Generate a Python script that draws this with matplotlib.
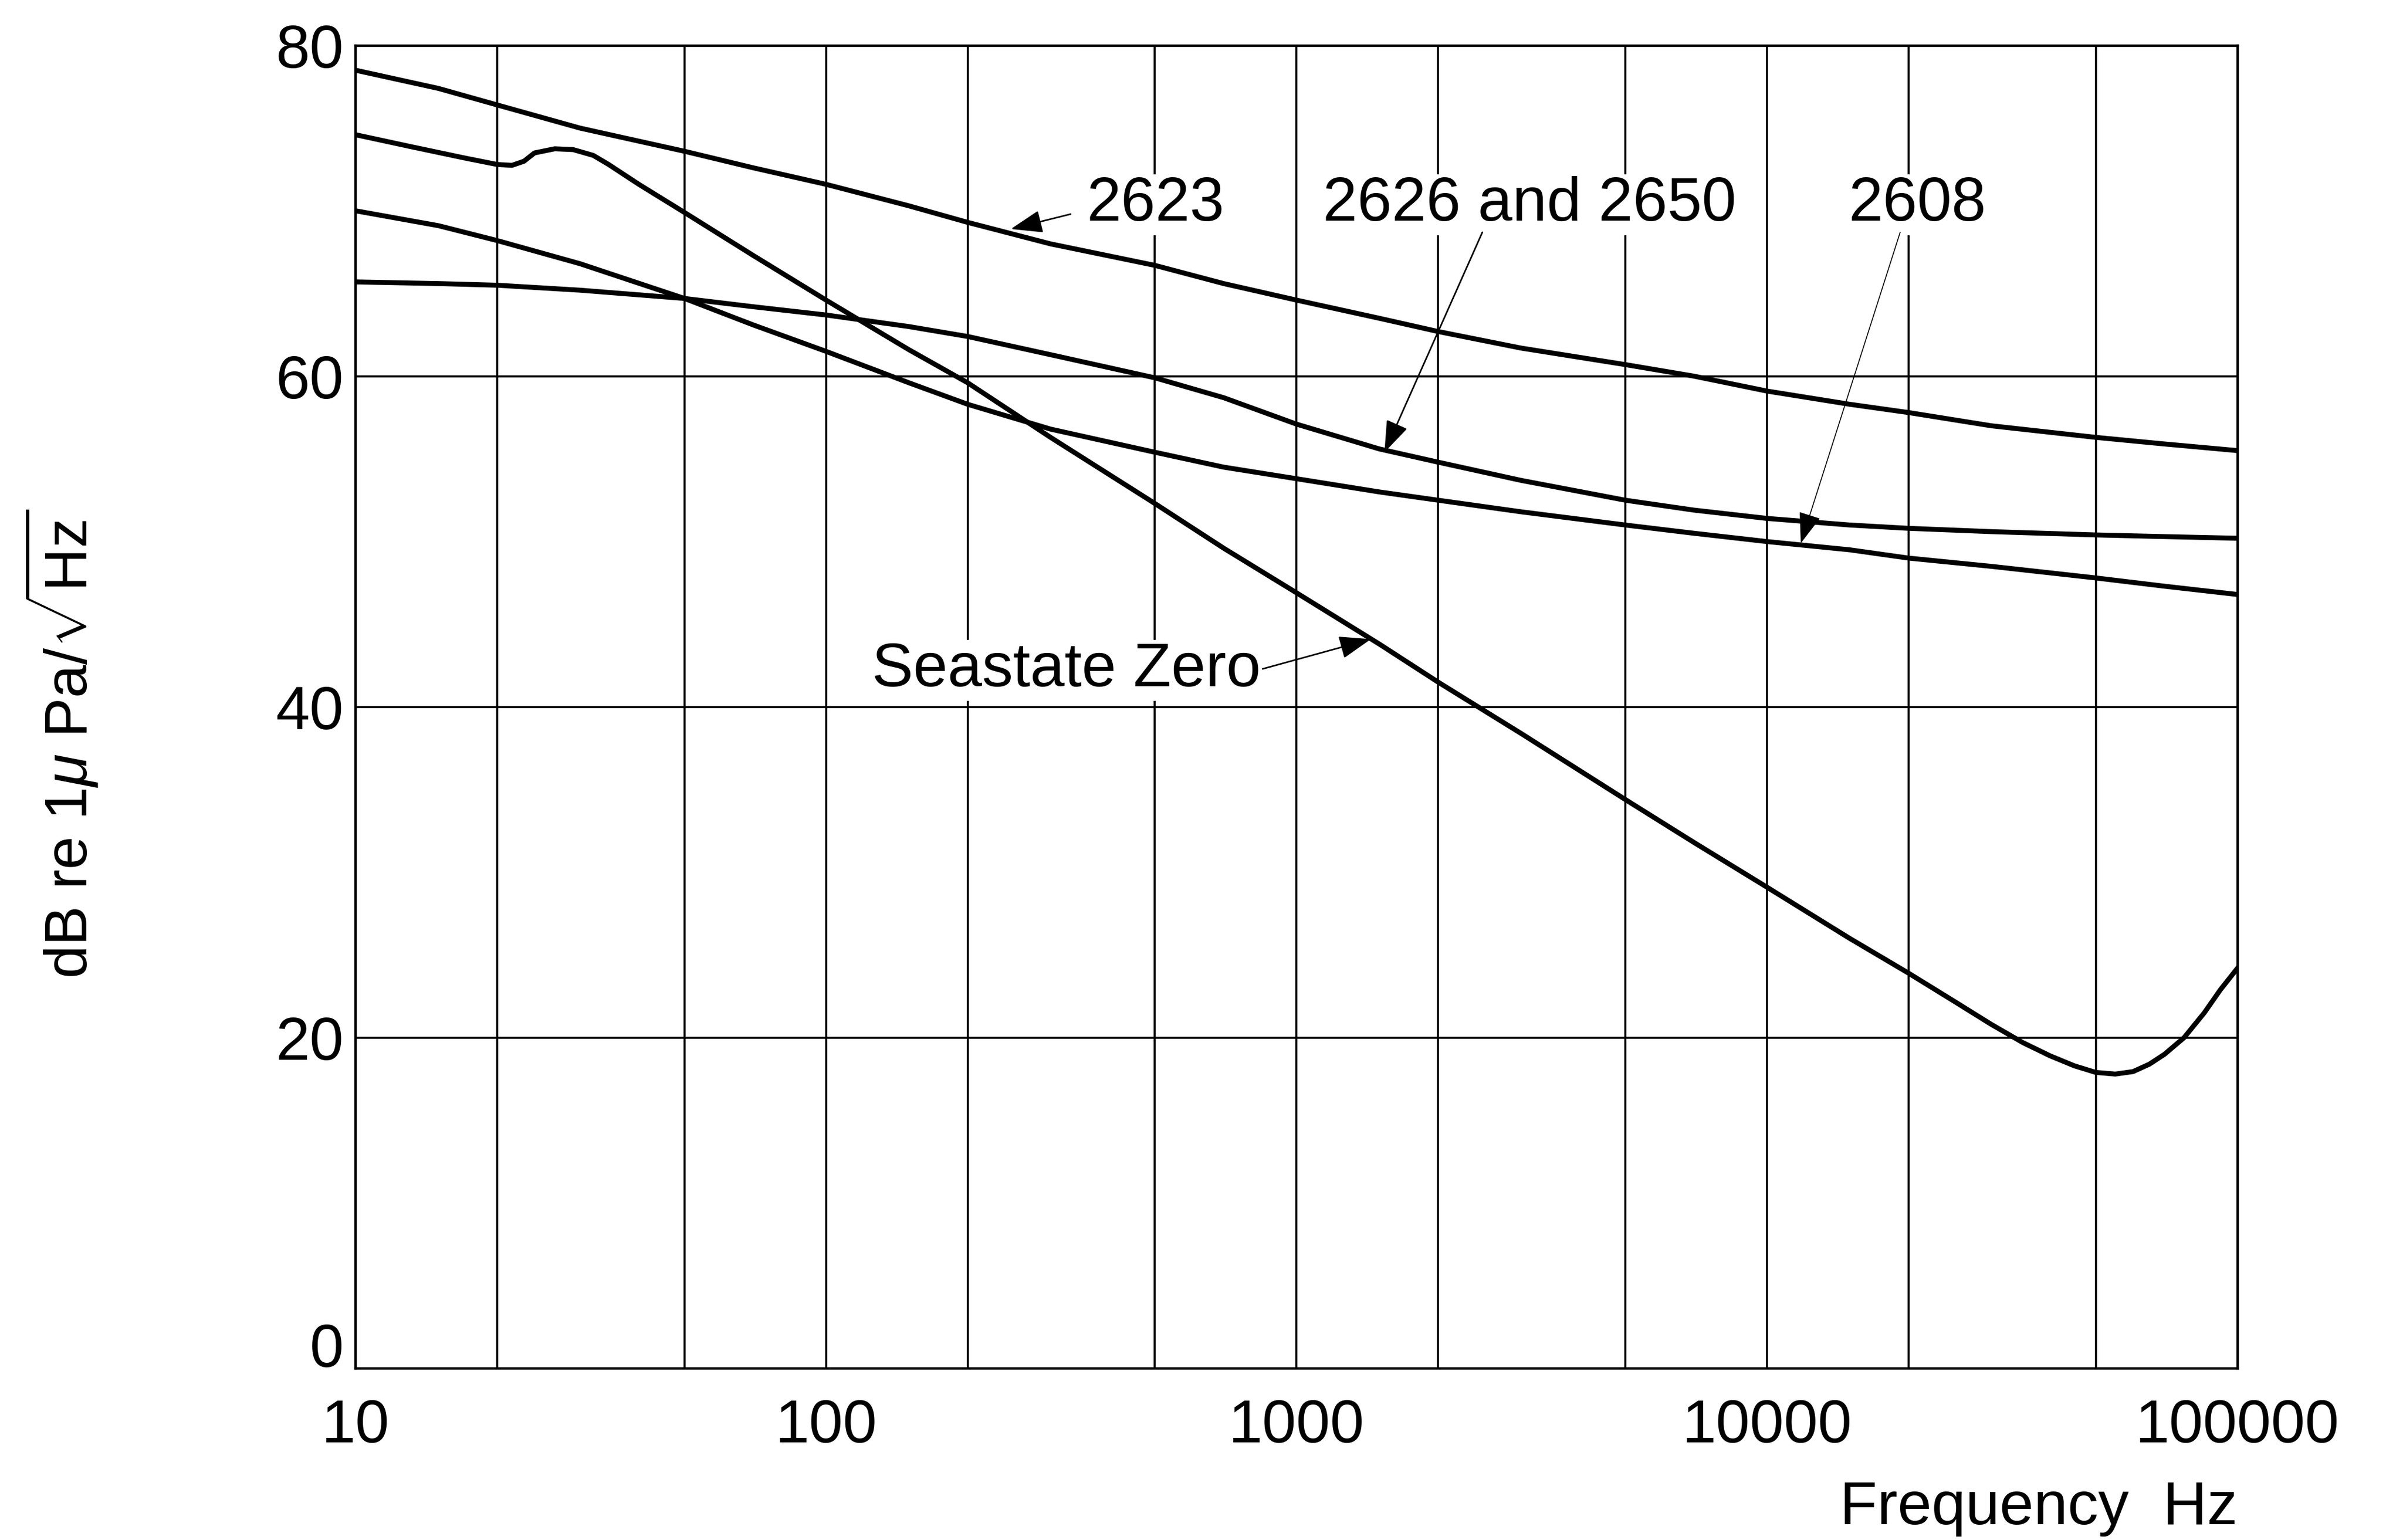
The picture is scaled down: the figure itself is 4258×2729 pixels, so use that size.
import numpy as np
import matplotlib
matplotlib.use("Agg")
import matplotlib.pyplot as plt
from matplotlib.ticker import FixedLocator, NullFormatter

plt.rcParams['font.family'] = ['Liberation Sans', 'DejaVu Sans']
plt.rcParams['mathtext.fontset'] = 'custom'
plt.rcParams['mathtext.rm'] = 'Liberation Sans'
plt.rcParams['mathtext.it'] = 'Liberation Sans:italic'

# curves (frequency Hz, dB)
freq = [10, 15, 20, 30, 50, 70, 100, 150, 200, 300, 500, 700, 1000, 1500,
        2000, 3000, 5000, 7000, 10000, 15000, 20000, 30000, 50000, 70000, 100000]
db_2623 = [78.5, 77.4, 76.4, 75.0, 73.6, 72.6, 71.6, 70.3, 69.3, 68.0, 66.7, 65.6, 64.6,
           63.5, 62.7, 61.7, 60.7, 60.0, 59.1, 58.3, 57.8, 57.0, 56.3, 55.9, 55.5]
db_2626 = [65.7, 65.6, 65.5, 65.2, 64.7, 64.2, 63.7, 63.0, 62.4, 61.3, 59.9, 58.7, 57.1,
           55.6, 54.8, 53.7, 52.5, 51.9, 51.4, 51.0, 50.8, 50.6, 50.4, 50.3, 50.2]
db_2608 = [70.0, 69.1, 68.2, 66.8, 64.7, 63.1, 61.5, 59.6, 58.3, 56.8, 55.4, 54.5, 53.8,
           53.0, 52.5, 51.8, 51.0, 50.5, 50.0, 49.5, 49.0, 48.5, 47.8, 47.3, 46.8]

freq_sea = [10, 13, 17, 20, 21.5, 22.8, 24, 26.5, 29, 32, 34.5, 40, 50, 70, 100, 150, 200,
            300, 500, 700, 1000, 1500, 2000, 3000, 5000, 7000, 10000, 15000, 20000,
            25000, 30000, 35000, 40000, 45000, 50000, 55000, 60000, 65000, 70000,
            77000, 85000, 92000, 100000]
db_sea = [74.6, 73.9, 73.2, 72.8, 72.75, 73.0, 73.5, 73.75, 73.7, 73.35, 72.8, 71.6, 69.9,
          67.3, 64.6, 61.6, 59.6, 56.3, 52.3, 49.6, 46.9, 43.8, 41.5, 38.4, 34.4, 31.8,
          29.1, 26.0, 23.9, 22.2, 20.8, 19.7, 18.9, 18.3, 17.9, 17.8, 17.95, 18.4, 19.0,
          20.0, 21.5, 22.9, 24.2]

# labels and their arrows (text x, text baseline y, arrow tail, arrow head)
label_text = ['2623', '2626 and 2650', '2608', 'Seastate Zero']
label_x = [501, 3126, 20900, 324]
label_y = [69.4, 69.4, 69.4, 41.25]
arrow_tail = [(331, 69.8), (2483, 68.7), (19190, 68.7), (847, 42.3)]
arrow_head = [(247, 68.9), (1538, 55.4), (11800, 49.9), (1439, 44.1)]

major_x = [10, 100, 1000, 10000, 100000]
minor_x = [20, 50, 200, 500, 2000, 5000, 20000, 50000]
y_ticks = [0, 20, 40, 60, 80]

fig = plt.figure(figsize=(42.58, 27.29), dpi=100)
ax = fig.add_axes([0.148, 0.1114, 0.7831, 0.8591])
ax.set_xscale('log')
ax.set_xlim(10, 100000)
ax.set_ylim(0, 80)

ax.xaxis.set_major_locator(FixedLocator(major_x))
ax.xaxis.set_minor_locator(FixedLocator(minor_x))
ax.xaxis.set_minor_formatter(NullFormatter())
ax.set_xticks(major_x)
ax.set_xticklabels([str(v) for v in major_x])
ax.set_yticks(y_ticks)
# the "0" sits a little above the axis in the original, drawn separately below
ax.set_yticklabels(['' if v == 0 else str(v) for v in y_ticks])
ax.tick_params(axis='x', which='both', length=0, labelsize=78, pad=38)
ax.tick_params(axis='y', which='both', length=0, labelsize=78, pad=15)
ax.grid(True, which='both', color='black', lw=2.6)
for s in ax.spines.values():
    s.set_linewidth(3.2)
ax.set_axisbelow(True)
ax.annotate('0', xy=(10, 0), xytext=(-15, 22), textcoords='offset points',
            ha='right', va='center', fontsize=78, annotation_clip=False)

lw = 6.3
ax.plot(freq, db_2623, color='black', lw=lw)
ax.plot(freq, db_2626, color='black', lw=lw)
ax.plot(freq, db_2608, color='black', lw=lw)
ax.plot(freq_sea, db_sea, color='black', lw=lw)

for i, t in enumerate(label_text):
    ax.text(label_x[i], label_y[i], t, fontsize=79, ha='center', va='baseline',
            zorder=5, bbox=dict(facecolor='white', edgecolor='none', pad=2))
    thin = 1.2 if t == '2608' else 2.0
    ax.annotate('', xy=arrow_head[i], xytext=arrow_tail[i],
                arrowprops=dict(arrowstyle='-|>,head_length=0.5,head_width=0.18',
                                mutation_scale=70, lw=thin, color='black',
                                shrinkA=0, shrinkB=0), zorder=6)

fig.text(0.0255, 0.517, r'dB re 1$\mu$ Pa/$\sqrt{\mathrm{Hz}}$', rotation=90,
         fontsize=76, ha='center', va='center')
fig.text(0.9311, 0.0205, 'Frequency  Hz', fontsize=78, ha='right', va='center')

fig.savefig('out.png', dpi=100, facecolor='white')
